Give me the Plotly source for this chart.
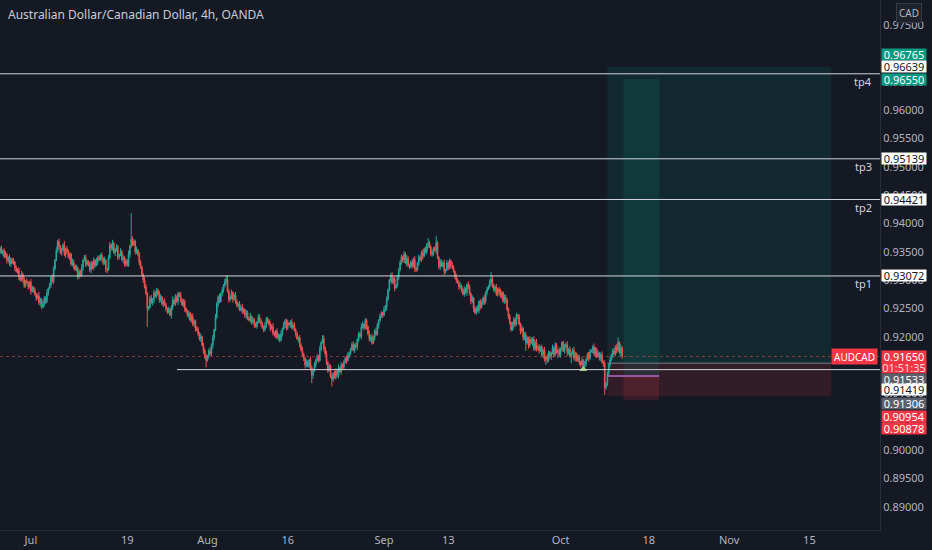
import pandas as pd
import plotly.graph_objects as go

# AUDCAD 4h closes in pips (price * 10000), Jun 25 04:00 -> Oct 12 16:00 2021
first_open = 9350
close_pips = [
    9356, 9348, 9352, 9341, 9345, 9335, 9340, 9328, 9336, 9330, 9332,
    9322, 9315, 9318, 9305, 9300, 9310, 9302, 9290, 9298, 9295,
    9288, 9296, 9280, 9286, 9282, 9275, 9268, 9272, 9260, 9266, 9252, 9258,
    9268, 9262, 9278, 9285, 9291, 9305, 9298, 9320, 9335, 9352, 9368,
    9360, 9348, 9353, 9362, 9345, 9355, 9350, 9340, 9346, 9328, 9332,
    9325, 9318, 9322, 9306, 9315, 9309, 9322, 9335, 9340, 9328, 9333, 9326,
    9318, 9330, 9322, 9335, 9326, 9332, 9340, 9336, 9344,
    9338, 9330, 9335, 9320, 9318, 9340, 9362, 9356, 9365, 9348, 9353,
    9358, 9340, 9344, 9350, 9336, 9340, 9328, 9334, 9326, 9345, 9360, 9372,
    9362, 9368, 9350, 9353, 9345, 9332, 9322, 9310, 9300, 9288, 9276, 9250,
    9252, 9268, 9260, 9265, 9278, 9272, 9282, 9275, 9265,
    9270, 9258, 9262, 9256, 9250, 9244, 9248, 9238, 9252, 9265,
    9258, 9270, 9262, 9276, 9273, 9265, 9256,
    9262, 9250, 9245, 9238, 9242, 9229, 9235, 9222, 9228, 9215, 9212,
    9205, 9196, 9200, 9185, 9176, 9165, 9158, 9166, 9175, 9170, 9185,
    9198, 9212, 9235, 9258, 9270, 9262, 9276, 9282, 9290, 9298, 9302,
    9280, 9265, 9270, 9278, 9266, 9273, 9262, 9255, 9258, 9247,
    9252, 9244, 9248, 9238, 9242, 9232, 9229, 9236, 9226, 9230, 9221,
    9218, 9226, 9234, 9229, 9224, 9216, 9212, 9220, 9232, 9229,
    9222, 9214, 9218, 9206, 9203, 9210, 9198, 9202, 9194, 9205, 9214, 9221,
    9228, 9215, 9224, 9221, 9226, 9216, 9220, 9212, 9205, 9196, 9198, 9185,
    9176, 9168, 9162, 9150, 9155, 9148, 9159, 9145, 9132, 9140, 9150, 9159,
    9165, 9158, 9178, 9190, 9196, 9180, 9170, 9155, 9140, 9148, 9130, 9125,
    9135, 9128, 9140, 9132, 9145, 9138, 9150, 9146,
    9155, 9162, 9158, 9168, 9171, 9178, 9186, 9176, 9185, 9182,
    9195, 9205, 9200, 9217, 9222, 9215, 9229, 9218, 9205, 9196, 9200, 9189,
    9198, 9210, 9204, 9220, 9229, 9236, 9242, 9238, 9248, 9252,
    9266, 9282, 9300, 9308, 9296, 9302, 9286, 9291, 9305, 9318, 9330, 9341,
    9335, 9346, 9330, 9338, 9326, 9323, 9332, 9325, 9336, 9320, 9318,
    9330, 9340, 9336, 9348, 9342, 9355, 9350, 9362, 9365,
    9358, 9345, 9348, 9356, 9352, 9366, 9340, 9323,
    9332, 9325, 9330, 9315, 9318, 9330, 9322, 9334, 9326, 9323,
    9315, 9306, 9300, 9295, 9288, 9290, 9282, 9275, 9284, 9278, 9292, 9288,
    9275, 9262, 9268, 9250, 9242, 9250, 9246, 9262, 9252, 9259,
    9268, 9262, 9278, 9284, 9288, 9296, 9302,
    9290, 9282, 9288, 9275, 9284, 9279, 9272, 9278, 9262, 9270, 9265,
    9248, 9236, 9225, 9212, 9220, 9230, 9222, 9238, 9235,
    9222, 9210, 9215, 9198, 9204, 9189, 9198, 9185, 9195, 9189,
    9196, 9178, 9190, 9180, 9182, 9175, 9182, 9168, 9176, 9160, 9164,
    9158, 9172, 9165, 9171, 9180, 9168, 9185, 9172, 9176,
    9168, 9178, 9190, 9175, 9182, 9186, 9172, 9178, 9165, 9171,
    9176, 9162, 9170, 9158, 9164, 9155, 9150, 9158, 9146,
    9152, 9160, 9168, 9162, 9174, 9176, 9182, 9170, 9178, 9165, 9171,
    9162, 9168, 9155, 9153, 9110, 9118, 9135, 9150, 9159,
    9168, 9175, 9170, 9182, 9176, 9190, 9172, 9180, 9165,
]

# wick lengths above / below the body, in pips
wick_up = [
    3, 5, 2, 4, 6, 3, 2, 5, 4, 3, 7, 2, 4, 3, 5, 2, 6, 3, 4, 2,
    5, 3, 2, 6, 4, 3, 5, 2, 4, 7, 3, 2, 5, 4, 3, 6, 2, 4, 3, 5,
    4, 2, 6, 3, 5, 2, 4, 3, 7, 2, 5, 4, 3, 2, 6, 4, 3, 5, 2, 4,
    3, 6, 2, 4, 5, 3, 2, 6, 4, 3, 5, 2, 7, 3, 4, 2, 5, 3, 6, 2,
    2, 4, 5, 3, 6, 2, 3, 5, 4, 2, 6, 3, 5, 2, 4, 3, 7, 2, 4, 5,
    4, 3, 6, 2, 5, 3, 4, 2, 6, 5, 3, 2, 4, 6, 3, 5, 2, 4, 3, 6,
    5, 2, 3, 6, 4, 2, 5, 3, 4, 6, 2, 5, 3, 4, 2, 6, 3, 5, 4, 2,
    3, 4, 2, 5, 6, 3, 2, 4, 5, 3, 6, 2, 4, 3, 5, 2, 4, 6, 3, 5,
    2, 5, 4, 3, 6, 2, 5, 3, 4, 2, 6, 4, 3, 5, 2, 3, 6, 4, 2, 5,
    4, 6, 3, 2, 5, 4, 3, 6, 2, 5, 3, 4, 2, 6, 5, 3, 2, 4, 6, 3,
    3, 2, 5, 4, 6, 3, 2, 5, 4, 3, 6, 2, 5, 3, 4, 6, 2, 3, 5, 4,
    6, 3, 4, 2, 5, 3, 6, 4, 2, 5, 3, 2, 6, 4, 3, 5, 2, 4, 3, 6,
    2, 4, 6, 3, 5, 2, 4, 3, 6, 2, 5, 4, 3, 6, 2, 5, 3, 4, 2, 5,
    5, 3, 2, 4, 6, 3, 5, 2, 4, 3, 6, 5, 2, 4, 3, 2, 6, 3, 5, 4,
    3, 6, 4, 2, 5, 3, 2, 6, 4, 5, 3, 2, 4, 6, 3, 5, 2, 4, 3, 5,
    4, 2, 5, 3, 6, 4, 3, 2, 5, 4, 6, 3, 2, 5, 3, 4, 6, 2, 4, 3,
    6, 4, 3, 5, 2, 4, 6, 3, 2, 5, 4, 3, 6, 2, 5, 3, 4, 2, 6, 3,
    2, 5, 3, 4, 6, 2, 4, 5, 3, 2, 6, 4, 3, 5, 2, 4, 3, 6, 2, 5,
    5, 3, 6, 2, 4, 3, 5, 2, 6, 4, 3, 5, 2, 4, 6, 3, 2, 5, 4, 3,
    3, 4, 2, 6, 5, 3, 4, 2, 5, 3, 6, 2, 4, 5, 3, 2, 6, 4, 3, 5,
    4, 6, 3, 5, 2, 4, 3, 6, 2, 5, 4, 3, 2, 6, 3, 5, 4, 2, 5, 3,
    2, 3, 5, 4, 6, 2, 5, 3, 4, 6, 3, 2, 5, 4, 2, 6, 3, 5, 3, 4,
    5, 4, 2, 3, 6, 4, 3, 5, 2, 4, 6, 3, 5, 2, 4, 3, 6, 2, 4, 5,
    3, 5, 4, 2, 6, 3,
]
wick_dn = [
    4, 2, 5, 3, 2, 6, 4, 3, 5, 2, 3, 6, 2, 4, 5, 3, 2, 7, 4, 3,
    2, 5, 3, 6, 2, 4, 3, 5, 2, 4, 6, 3, 2, 5, 4, 3, 6, 2, 5, 3,
    5, 3, 2, 4, 6, 3, 5, 2, 3, 6, 4, 2, 5, 3, 4, 6, 2, 3, 5, 4,
    3, 4, 6, 2, 5, 3, 2, 4, 6, 3, 5, 4, 2, 6, 3, 2, 5, 4, 3, 6,
    6, 2, 3, 5, 4, 2, 6, 3, 5, 4, 2, 3, 6, 4, 5, 2, 3, 6, 4, 2,
    2, 5, 4, 3, 6, 2, 4, 5, 3, 2, 6, 4, 3, 2, 5, 6, 3, 4, 2, 5,
    4, 3, 6, 2, 5, 4, 3, 2, 6, 5, 3, 4, 2, 6, 3, 5, 2, 4, 6, 3,
    3, 6, 2, 4, 3, 5, 6, 2, 4, 3, 5, 2, 6, 4, 3, 2, 5, 3, 4, 6,
    5, 2, 4, 6, 3, 2, 5, 4, 3, 6, 2, 5, 3, 4, 6, 2, 4, 3, 5, 2,
    2, 4, 3, 5, 6, 3, 2, 4, 5, 3, 6, 2, 4, 3, 5, 6, 2, 4, 3, 5,
    6, 3, 5, 2, 4, 3, 6, 2, 5, 4, 3, 5, 2, 6, 4, 3, 2, 5, 3, 4,
    3, 5, 2, 6, 4, 2, 3, 5, 6, 4, 2, 3, 5, 4, 6, 2, 5, 3, 4, 2,
    4, 2, 6, 3, 5, 4, 2, 3, 6, 5, 2, 4, 3, 6, 2, 5, 4, 3, 2, 6,
    2, 6, 4, 3, 2, 5, 3, 6, 4, 2, 5, 3, 4, 2, 6, 3, 5, 4, 3, 2,
    5, 3, 2, 6, 4, 3, 5, 2, 4, 6, 3, 2, 5, 4, 3, 6, 2, 4, 5, 3,
    3, 4, 5, 2, 6, 3, 4, 2, 5, 3, 6, 4, 2, 5, 3, 4, 6, 2, 3, 5,
    6, 2, 3, 4, 5, 2, 6, 3, 4, 5, 2, 3, 6, 4, 2, 5, 3, 6, 4, 2,
    4, 5, 2, 6, 3, 4, 2, 5, 3, 6, 4, 2, 5, 3, 6, 2, 4, 3, 5, 4,
    2, 3, 6, 4, 5, 2, 3, 6, 4, 2, 5, 3, 4, 6, 3, 5, 2, 4, 6, 3,
    5, 4, 3, 2, 6, 5, 3, 4, 2, 6, 3, 5, 4, 2, 3, 6, 4, 2, 5, 3,
    3, 6, 4, 5, 2, 3, 6, 4, 2, 5, 3, 4, 6, 2, 5, 3, 2, 6, 4, 5,
    4, 2, 5, 3, 6, 4, 2, 5, 3, 4, 6, 2, 3, 5, 4, 2, 6, 3, 5, 2,
    6, 3, 2, 5, 4, 6, 3, 2, 4, 5, 3, 6, 2, 4, 5, 3, 4, 2, 6, 3,
    4, 5, 3, 2, 6, 4,
]
# notable long wicks (bar index -> pips)
long_wick_up = {98: 46, 169: 7, 241: 7, 320: 9, 326: 12, 367: 12, 462: 9}
long_wick_dn = {110: 33, 154: 12, 233: 14, 248: 13, 393: 14, 408: 10,
                417: 10, 427: 12, 436: 6, 452: 13}

# levels drawn on the chart
tp_names = ["tp1", "tp2", "tp3", "tp4"]
tp_levels = [0.93072, 0.94421, 0.95139, 0.96639]
support_level = 0.91419
support_start = "2021-07-27 05:00"
last_price = 0.91650
countdown = "01:51:35"
signal_bar = 436
signal_price = 0.91425

# long position tools: outer and inner
outer_pos = dict(start="2021-10-08 20:00", end="2021-11-17 17:30",
                 entry=0.91533, target=0.96765, stop=0.90954)
inner_pos = dict(start="2021-10-12 20:00", end="2021-10-19 07:00",
                 entry=0.91306, target=0.96550, stop=0.90878)

tick_dates = ["2021-07-01", "2021-07-19", "2021-08-02", "2021-08-16", "2021-09-01",
              "2021-09-13", "2021-10-01", "2021-10-18", "2021-11-01", "2021-11-15"]
tick_text = ["Jul", "19", "Aug", "16", "Sep", "13", "Oct", "18", "Nov", "15"]

# build ohlc
opens = [first_open] + close_pips[:-1]
highs, lows = [], []
for i, (o, c) in enumerate(zip(opens, close_pips)):
    highs.append(max(o, c) + long_wick_up.get(i, wick_up[i]))
    lows.append(min(o, c) - long_wick_dn.get(i, wick_dn[i]))

days = pd.bdate_range("2021-06-25", "2021-11-30")
times = [d + pd.Timedelta(hours=h) for d in days for h in range(0, 24, 4)][1:]
times = times[:len(close_pips)]

df = pd.DataFrame({
    "time": times,
    "open": [v / 10000 for v in opens],
    "high": [v / 10000 for v in highs],
    "low": [v / 10000 for v in lows],
    "close": [v / 10000 for v in close_pips],
})

BG = "#151924"
TXT = "#b2b5be"
UP = "#26a69a"
DOWN = "#ef5350"

fig = go.Figure()
fig.add_trace(go.Candlestick(
    x=df["time"], open=df["open"], high=df["high"], low=df["low"], close=df["close"],
    increasing=dict(line=dict(color=UP, width=1), fillcolor=UP),
    decreasing=dict(line=dict(color=DOWN, width=1), fillcolor=DOWN),
    whiskerwidth=0, showlegend=False, hoverinfo="skip",
))
fig.add_trace(go.Scatter(
    x=[df["time"][signal_bar]], y=[signal_price], mode="markers",
    marker=dict(symbol="triangle-up", size=7, color="#9ccc65"),
    showlegend=False, hoverinfo="skip",
))

# position boxes
for pos, a in [(outer_pos, 0.13), (inner_pos, 0.14)]:
    fig.add_shape(type="rect", xref="x", yref="y", x0=pos["start"], x1=pos["end"],
                  y0=pos["entry"], y1=pos["target"], line_width=0,
                  fillcolor=f"rgba(8,153,129,{a})", layer="below")
    fig.add_shape(type="rect", xref="x", yref="y", x0=pos["start"], x1=pos["end"],
                  y0=pos["stop"], y1=pos["entry"], line_width=0,
                  fillcolor=f"rgba(242,54,69,{a})", layer="below")
fig.add_shape(type="line", xref="x", yref="y", x0=outer_pos["start"], x1=outer_pos["end"],
              y0=outer_pos["entry"], y1=outer_pos["entry"], line=dict(color="#787b86", width=1))
fig.add_shape(type="line", xref="x", yref="y", x0=outer_pos["start"], x1=inner_pos["end"],
              y0=inner_pos["entry"], y1=inner_pos["entry"], line=dict(color="#b968c7", width=1.5))

# tp lines
for name, lvl in zip(tp_names, tp_levels):
    fig.add_shape(type="line", xref="paper", yref="y", x0=0, x1=1, y0=lvl, y1=lvl,
                  line=dict(color="#d1d4dc", width=1))
    fig.add_annotation(xref="paper", yref="y", x=1, y=lvl, xanchor="right", yanchor="middle",
                       xshift=-6, yshift=-8, text=name, showarrow=False,
                       font=dict(color="#d1d4dc", size=11))

# support line and current price line
fig.add_shape(type="line", xref="x", yref="y", x0=support_start, x1="2021-12-31",
              y0=support_level, y1=support_level, line=dict(color="#d1d4dc", width=1))
fig.add_shape(type="line", xref="paper", yref="y", x0=0, x1=1, y0=last_price, y1=last_price,
              line=dict(color="rgba(239,83,80,0.5)", width=1, dash="dot"))

# right side price labels: (value, text, bg, fg, yshift)
price_labels = [
    (outer_pos["target"], "0.96765", "#089981", "#ffffff", 12),
    (tp_levels[3], "0.96639", "#ffffff", "#131722", 7),
    (inner_pos["target"], "0.96550", "#089981", "#ffffff", -1),
    (tp_levels[2], "0.95139", "#ffffff", "#131722", 0),
    (tp_levels[1], "0.94421", "#ffffff", "#131722", 0),
    (tp_levels[0], "0.93072", "#ffffff", "#131722", 0),
    (last_price, "0.91650", "#f23645", "#ffffff", 0),
    (last_price, countdown, "#f23645", "#ffd6d9", -11),
    (outer_pos["entry"], "0.91533", "#5d606b", "#ffffff", -16),
    (support_level, "0.91419", "#ffffff", "#131722", -20),
    (inner_pos["entry"], "0.91306", "#5d606b", "#ffffff", -27),
    (outer_pos["stop"], "0.90954", "#f23645", "#ffffff", -21),
    (inner_pos["stop"], "0.90878", "#f23645", "#ffffff", -28),
]
for val, text, bg, fg, ys in price_labels:
    fig.add_annotation(xref="paper", yref="y", x=1, y=val, xanchor="left", yanchor="middle",
                       xshift=1, yshift=ys, text=text, showarrow=False, bgcolor=bg,
                       width=44, height=11, borderpad=0, font=dict(color=fg, size=11))

fig.add_annotation(xref="paper", yref="y", x=1, y=last_price, xanchor="right", yanchor="middle",
                   xshift=-2, text="AUDCAD", showarrow=False, bgcolor="#f23645",
                   height=11, borderpad=2, font=dict(color="#ffffff", size=10))

fig.add_annotation(xref="paper", yref="paper", x=1, y=1, xanchor="left", yanchor="top",
                   xshift=16, yshift=-3, text="CAD", showarrow=False, bgcolor="#1e222d",
                   bordercolor="#363a45", borderwidth=1, borderpad=2,
                   font=dict(color=TXT, size=10))

fig.add_annotation(xref="paper", yref="paper", x=0, y=1, xanchor="left", yanchor="top",
                   xshift=6, yshift=-4, text="Australian Dollar/Canadian Dollar, 4h, OANDA",
                   showarrow=False, font=dict(color="#c9ccd4", size=12))

fig.update_layout(
    width=932, height=550,
    margin=dict(l=0, r=52, t=0, b=20),
    paper_bgcolor=BG, plot_bgcolor=BG,
    font=dict(family="Noto Sans", color=TXT, size=11),
    showlegend=False,
    xaxis=dict(
        rangeslider=dict(visible=False),
        rangebreaks=[dict(bounds=["sat", "mon"])],
        range=["2021-06-25 03:36", "2021-11-25 19:12"],
        tickvals=tick_dates, ticktext=tick_text,
        showgrid=False, zeroline=False, ticks="",
        showline=True, linecolor="#2a2e39", mirror=False,
        tickfont=dict(color=TXT, size=11),
    ),
    yaxis=dict(
        side="right", range=[0.88589, 0.97941],
        tick0=0.89, dtick=0.005, tickformat=".5f",
        showgrid=False, zeroline=False, ticks="",
        showline=True, linecolor="#2a2e39",
        tickfont=dict(color=TXT, size=11),
    ),
)

# page body has a default margin; drop it so the chart fills the window
fig.write_html("out.html", config={"displayModeBar": False},
               post_script="document.body.style.margin='0';"
               "document.body.style.background='#151924';")
